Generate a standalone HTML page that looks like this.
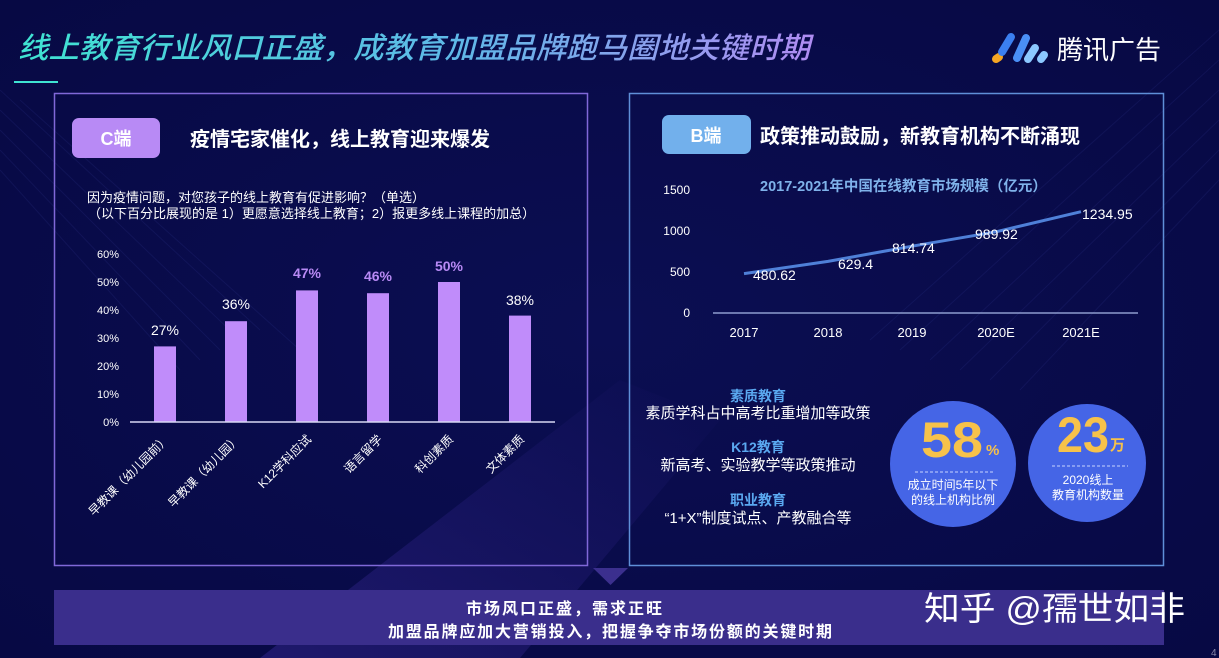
<!DOCTYPE html>
<html><head><meta charset="utf-8">
<style>
html,body{margin:0;padding:0;background:#080a48;}
svg{display:block;}
text{font-family:"Liberation Sans","Noto Sans CJK SC",sans-serif;}
</style></head>
<body>
<svg width="1219" height="658" viewBox="0 0 1219 658" xmlns="http://www.w3.org/2000/svg">
<defs>
  <linearGradient id="tg" x1="0" y1="0" x2="1" y2="0">
    <stop offset="0" stop-color="#3fe3d2"/>
    <stop offset="0.55" stop-color="#5fb8e8"/>
    <stop offset="1" stop-color="#b08cf2"/>
  </linearGradient>
  <radialGradient id="bg" cx="0.5" cy="0.5" r="0.7">
    <stop offset="0" stop-color="#0b0e52"/>
    <stop offset="1" stop-color="#070944"/>
  </radialGradient>
  <linearGradient id="wedge" x1="0" y1="1" x2="1" y2="0">
    <stop offset="0" stop-color="#3a2a9a" stop-opacity="0.45"/>
    <stop offset="1" stop-color="#3a2a9a" stop-opacity="0"/>
  </linearGradient>
</defs>
<rect width="1219" height="658" fill="url(#bg)"/>
<!-- background streaks -->
<g stroke="#4a4fb0" stroke-opacity="0.14" stroke-width="1">
  <line x1="0" y1="90" x2="260" y2="330"/>
  <line x1="0" y1="110" x2="240" y2="340"/>
  <line x1="0" y1="130" x2="220" y2="350"/>
  <line x1="0" y1="150" x2="200" y2="360"/>
  <line x1="0" y1="170" x2="180" y2="370"/>
  <line x1="20" y1="100" x2="300" y2="350"/>
  <line x1="900" y1="350" x2="1219" y2="60"/>
  <line x1="930" y1="360" x2="1219" y2="90"/>
  <line x1="960" y1="370" x2="1219" y2="120"/>
  <line x1="990" y1="380" x2="1219" y2="150"/>
  <line x1="1020" y1="390" x2="1219" y2="180"/>
  <line x1="870" y1="340" x2="1219" y2="30"/>
</g>
<polygon points="260,658 620,380 720,420 520,658" fill="url(#wedge)"/>

<!-- Title -->
<text x="18" y="58" font-size="29.3" font-style="italic" fill="url(#tg)" font-weight="500" textLength="792" lengthAdjust="spacingAndGlyphs">线上教育行业风口正盛，成教育加盟品牌跑马圈地关键时期</text>
<rect x="14" y="81" width="44" height="2" fill="#3fe3d2"/>

<!-- Logo -->
<g stroke-linecap="round">
  <line x1="996" y1="59" x2="999" y2="57" stroke="#f5a623" stroke-width="8"/>
  <line x1="1011" y1="37" x2="1002" y2="52" stroke="#3b7ff0" stroke-width="8"/>
  <line x1="1026" y1="38" x2="1017" y2="58" stroke="#4a8ff5" stroke-width="8"/>
  <line x1="1035" y1="48" x2="1028" y2="59" stroke="#8cc8ff" stroke-width="8"/>
  <line x1="1044" y1="55" x2="1041" y2="59" stroke="#8cc8ff" stroke-width="8"/>
</g>
<text x="1057" y="59" font-size="26" fill="#ffffff">腾讯广告</text>

<!-- Left panel -->
<rect x="54.5" y="93.5" width="533" height="472" fill="none" stroke="#8068d8" stroke-width="1.5"/>
<rect x="72" y="118" width="88" height="40" rx="7" fill="#b88af5"/>
<text x="116" y="145" font-size="18" font-weight="bold" fill="#ffffff" text-anchor="middle">C端</text>
<text x="190" y="146" font-size="20" font-weight="bold" fill="#ffffff">疫情宅家催化，线上教育迎来爆发</text>
<text x="87" y="202" font-size="13" fill="#ffffff">因为疫情问题，对您孩子的线上教育有促进影响？（单选）</text>
<text x="88" y="218" font-size="13" fill="#ffffff">（以下百分比展现的是 1）更愿意选择线上教育；2）报更多线上课程的加总）</text>

<!-- bar chart y labels -->
<g font-size="11" fill="#ffffff" text-anchor="end">
  <text x="119" y="258">60%</text>
  <text x="119" y="286">50%</text>
  <text x="119" y="314">40%</text>
  <text x="119" y="342">30%</text>
  <text x="119" y="370">20%</text>
  <text x="119" y="398">10%</text>
  <text x="119" y="426">0%</text>
</g>
<g fill="#c08cfa">
  <rect x="154" y="346.4" width="22" height="75.6"/>
  <rect x="225" y="321.2" width="22" height="100.8"/>
  <rect x="296" y="290.4" width="22" height="131.6"/>
  <rect x="367" y="293.2" width="22" height="128.8"/>
  <rect x="438" y="282" width="22" height="140"/>
  <rect x="509" y="315.6" width="22" height="106.4"/>
</g>
<line x1="130" y1="422" x2="555" y2="422" stroke="#d8d8f4" stroke-width="1.5"/>
<g font-size="14" text-anchor="middle">
  <text x="165" y="335" fill="#ffffff">27%</text>
  <text x="236" y="309" fill="#ffffff">36%</text>
  <text x="307" y="278" fill="#b88af5" font-weight="bold">47%</text>
  <text x="378" y="281" fill="#b88af5" font-weight="bold">46%</text>
  <text x="449" y="271" fill="#b88af5" font-weight="bold">50%</text>
  <text x="520" y="305" fill="#ffffff">38%</text>
</g>
<g font-size="12" fill="#ffffff" text-anchor="end">
  <text x="170" y="440" transform="rotate(-45 170 440)">早教课（幼儿园前）</text>
  <text x="241" y="440" transform="rotate(-45 241 440)">早教课（幼儿园）</text>
  <text x="312" y="440" transform="rotate(-45 312 440)">K12学科应试</text>
  <text x="383" y="440" transform="rotate(-45 383 440)">语言留学</text>
  <text x="454" y="440" transform="rotate(-45 454 440)">科创素质</text>
  <text x="525" y="440" transform="rotate(-45 525 440)">文体素质</text>
</g>

<!-- Right panel -->
<rect x="629.5" y="93.5" width="534" height="472" fill="none" stroke="#5f8fd8" stroke-width="1.5"/>
<rect x="662" y="115" width="89" height="39" rx="7" fill="#72b0ec"/>
<text x="706" y="142" font-size="18" font-weight="bold" fill="#ffffff" text-anchor="middle">B端</text>
<text x="760" y="143" font-size="20" font-weight="bold" fill="#ffffff">政策推动鼓励，新教育机构不断涌现</text>

<text x="760" y="191" font-size="14.5" font-weight="bold" fill="#7fb2ea">2017-2021年中国在线教育市场规模（亿元）</text>
<g font-size="12" fill="#ffffff" text-anchor="end">
  <text x="690" y="194">1500</text>
  <text x="690" y="235">1000</text>
  <text x="690" y="276">500</text>
  <text x="690" y="317">0</text>
</g>
<line x1="713" y1="313" x2="1138" y2="313" stroke="#a8b8e8" stroke-width="1.2"/>
<g font-size="13" fill="#ffffff" text-anchor="middle">
  <text x="744" y="337">2017</text>
  <text x="828" y="337">2018</text>
  <text x="912" y="337">2019</text>
  <text x="996" y="337">2020E</text>
  <text x="1081" y="337">2021E</text>
</g>
<polyline points="744,273.6 828,261.4 912,246.2 996,231.8 1081,211.7" fill="none" stroke="#4f80d8" stroke-width="3" stroke-linejoin="round"/>
<g font-size="14" fill="#ffffff">
  <text x="753" y="280">480.62</text>
  <text x="838" y="269">629.4</text>
  <text x="892" y="253">814.74</text>
  <text x="975" y="239">989.92</text>
  <text x="1082" y="219">1234.95</text>
</g>

<!-- list -->
<g text-anchor="middle">
  <text x="758" y="401" font-size="14" font-weight="bold" fill="#5aa8f0">素质教育</text>
  <text x="758" y="418" font-size="15" fill="#ffffff">素质学科占中高考比重增加等政策</text>
  <text x="758" y="452" font-size="14" font-weight="bold" fill="#5aa8f0">K12教育</text>
  <text x="758" y="470" font-size="15" fill="#ffffff">新高考、实验教学等政策推动</text>
  <text x="758" y="505" font-size="14" font-weight="bold" fill="#5aa8f0">职业教育</text>
  <text x="758" y="523" font-size="15" fill="#ffffff">“1+X”制度试点、产教融合等</text>
</g>

<!-- circles -->
<circle cx="953" cy="464" r="63" fill="#4565e6"/>
<circle cx="1087" cy="463" r="59" fill="#4565e6"/>
<text x="952" y="457" font-size="50" font-weight="bold" fill="#f7c24a" text-anchor="middle" textLength="62" lengthAdjust="spacingAndGlyphs">58</text>
<text x="986" y="455" font-size="15" font-weight="bold" fill="#f7c24a">%</text>
<line x1="915" y1="472" x2="995" y2="472" stroke="#c8d4ff" stroke-width="1" stroke-dasharray="3,2"/>
<text x="953" y="489" font-size="12" fill="#ffffff" text-anchor="middle">成立时间5年以下</text>
<text x="953" y="504" font-size="12" fill="#ffffff" text-anchor="middle">的线上机构比例</text>
<text x="1083" y="452" font-size="50" font-weight="bold" fill="#f7c24a" text-anchor="middle" textLength="52" lengthAdjust="spacingAndGlyphs">23</text>
<text x="1110" y="450" font-size="15" font-weight="bold" fill="#f7c24a">万</text>
<line x1="1052" y1="466" x2="1128" y2="466" stroke="#c8d4ff" stroke-width="1" stroke-dasharray="3,2"/>
<text x="1088" y="484" font-size="12" fill="#ffffff" text-anchor="middle">2020线上</text>
<text x="1088" y="499" font-size="12" fill="#ffffff" text-anchor="middle">教育机构数量</text>

<!-- bottom -->
<polygon points="593,568 628,568 610.5,585" fill="#3b2f8e"/>
<rect x="54" y="590" width="1110" height="55" fill="#3a2e8c"/>
<g font-size="16" font-weight="bold" fill="#ffffff" text-anchor="middle">
  <text x="564" y="614" textLength="196" lengthAdjust="spacing">市场风口正盛，需求正旺</text>
  <text x="610" y="637" textLength="444" lengthAdjust="spacing">加盟品牌应加大营销投入，把握争夺市场份额的关键时期</text>
</g>
<text x="924" y="620" font-size="33" fill="#ffffff" textLength="261" lengthAdjust="spacingAndGlyphs">知乎 @孺世如非</text>
<text x="1211" y="656" font-size="10" fill="#8888aa">4</text>
</svg>
</body></html>
